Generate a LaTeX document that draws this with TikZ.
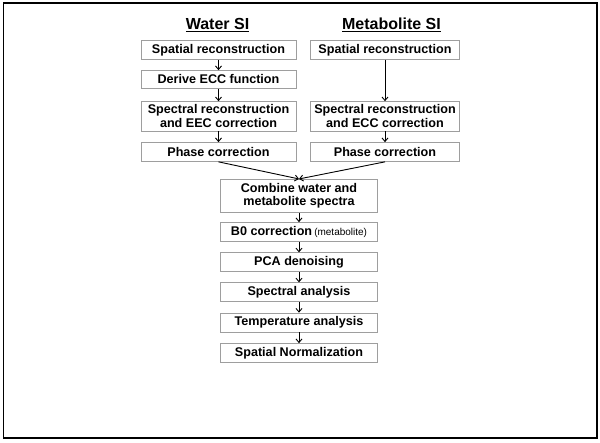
\documentclass[tikz,border=0pt]{standalone}
\usepackage{fontspec}
\setmainfont{Liberation Sans}
\usetikzlibrary{arrows.meta}

\tikzset{
    stepbox/.style={draw=black!38,line width=0.7pt,inner xsep=2pt,inner ysep=0pt,
        align=center,font=\fontsize{12.6}{13.6}\selectfont\bfseries,minimum height=19pt},
    flow/.style={-{Straight Barb[length=3.5pt,width=6pt]},line width=0.9pt}
}

\begin{document}
\begin{tikzpicture}[x=1pt,y=-1pt]
                \useasboundingbox (0,0) rectangle (600,443);
                \draw [line width=1.2pt] (3.5,3) rectangle (597,438);
                % headings
                \node (waterhead) at (217.5,25) {\fontsize{16}{18}\selectfont\bfseries\underline{Water SI}};
                \node (methead) at (391.5,25) {\fontsize{16}{18}\selectfont\bfseries\underline{Metabolite SI}};
                % water column
                \node [stepbox,minimum width=155pt] (wspat) at (218.5,50) {Spatial reconstruction};
                \node [stepbox,minimum width=155pt,minimum height=18pt] (wecc) at (218.5,79.5) {Derive ECC function};
                \node [stepbox,minimum width=155pt,minimum height=29.5pt] (wspec) at (218.5,116.3) {Spectral reconstruction\\and EEC correction};
                \node [stepbox,minimum width=155pt] (wphase) at (218.5,152) {Phase correction};
                % metabolite column
                \node [stepbox,minimum width=148.5pt] (mspat) at (385,50) {Spatial reconstruction};
                \node [stepbox,minimum width=148.5pt,minimum height=29.5pt] (mspec) at (385,116.3) {Spectral reconstruction\\and ECC correction};
                \node [stepbox,minimum width=148.5pt] (mphase) at (385,152) {Phase correction};
                % combined
                \node [stepbox,minimum width=157.5pt,minimum height=33pt] (combine) at (299,195.8) {Combine water and\\metabolite spectra};
                \node [stepbox,minimum width=157.5pt] (bzero) at (299,232) {B0 correction\,{\fontsize{10}{11}\selectfont\mdseries(metabolite)}};
                \node [stepbox,minimum width=157.5pt] (pca) at (299,262.2) {PCA denoising};
                \node [stepbox,minimum width=157.5pt] (specan) at (299,292.2) {Spectral analysis};
                \node [stepbox,minimum width=157.5pt] (tempan) at (299,322.5) {Temperature analysis};
                \node [stepbox,minimum width=157.5pt] (norm) at (299,353) {Spatial Normalization};
                % arrows
                \draw [flow] (wspat) -- (wecc);
                \draw [flow] (wecc) -- (wspec);
                \draw [flow] (wspec) -- (wphase);
                \draw [flow] (mspat) -- (mspec);
                \draw [flow] (mspec) -- (mphase);
                \draw [flow] (wphase.south) -- (combine.north);
                \draw [flow] (mphase.south) -- (combine.north);
                \draw [flow] (combine) -- (bzero);
                \draw [flow] (bzero) -- (pca);
                \draw [flow] (pca) -- (specan);
                \draw [flow] (specan) -- (tempan);
                \draw [flow] (tempan) -- (norm);
            \end{tikzpicture}
\end{document}
